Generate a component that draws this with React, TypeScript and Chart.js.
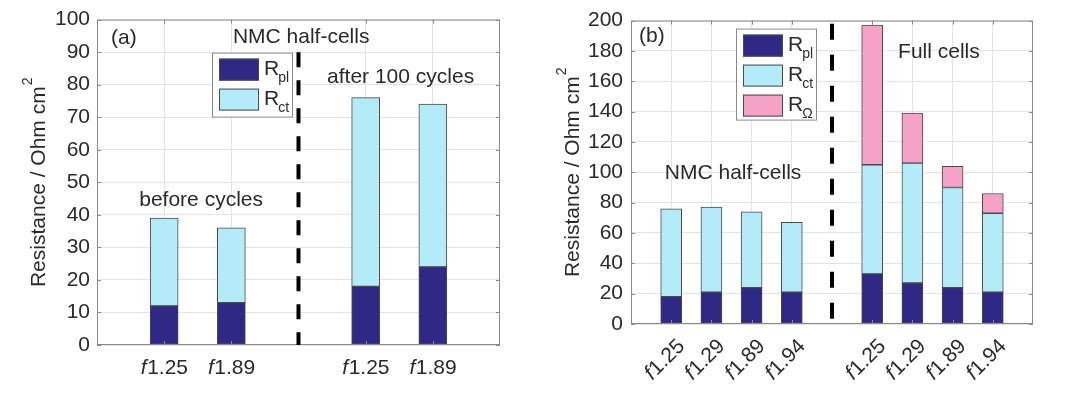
import React, { useEffect, useRef } from 'react';
import { Chart, registerables } from 'chart.js';

Chart.register(...registerables);

// ---------------- data ----------------
const leftLabels = ['', 'f1.25', 'f1.89', '', 'f1.25', 'f1.89', ''];
const leftRpl = [null, 12, 13, null, 18, 24, null];
const leftRct = [null, 27, 23, null, 58, 50, null];
const leftYTicks = { min: 0, max: 100, step: 10 };

const rightLabels = ['', 'f1.25', 'f1.29', 'f1.89', 'f1.94', '', 'f1.25', 'f1.29', 'f1.89', 'f1.94', ''];
const rightRpl = [null, 18, 21, 24, 21, null, 33, 27, 24, 21, null];
const rightRct = [null, 58, 56, 50, 46, null, 72, 79, 66, 52, null];
const rightRohm = [null, null, null, null, null, null, 92, 33, 14, 13, null];
const rightYTicks = { min: 0, max: 200, step: 20 };

const seriesSubs = ['pl', 'ct', 'Ω'];

const leftNotes = [
  { text: '(a)', x: 0.4, y: 94.2 },
  { text: 'NMC half-cells', x: 3.04, y: 94.5 },
  { text: 'after 100 cycles', x: 4.52, y: 82.2 },
  { text: 'before cycles', x: 1.55, y: 44.5 },
];
const rightNotes = [
  { text: '(b)', x: 0.52, y: 189.5 },
  { text: 'Full cells', x: 7.66, y: 179 },
  { text: 'NMC half-cells', x: 2.54, y: 99.2 },
];

const yTitle = 'Resistance / Ohm cm';
const yTitleSup = '2';

// ---------------- styles ----------------
const FONT = '"Liberation Sans", Arial, Helvetica, sans-serif';
const TEXT = '#2a2a2a';
const GRID = '#e4e4e4';
const AXIS = '#8a8a8a';
const EDGE = '#4a4a4a';
const C_PL = '#2f2884';
const C_CT = '#b4ebf8';
const C_OHM = '#f6a1c6';
const COLORS = [C_PL, C_CT, C_OHM];

Chart.defaults.font.family = FONT;

type Note = { text: string; x: number; y: number };
type PanelCfg = {
  labels: string[];
  series: (number | null)[][];
  yt: { min: number; max: number; step: number };
  notes: Note[];
  rotate: boolean;
  dashIndex: number;
  dashTop: number;
  dash: number[];
  barThickness: number;
  yWidth: number;
  xHeight: number;
  padRight: number;
  legend: { dx: number; dy: number; w: number; h: number };
  tickPad: number;
};

function drawFLabel(ctx: CanvasRenderingContext2D, label: string, cx: number, baseY: number) {
  const head = label.slice(0, 1);
  const rest = label.slice(1);
  ctx.font = `italic 21px ${FONT}`;
  const wf = ctx.measureText(head).width;
  ctx.font = `21px ${FONT}`;
  const wr = ctx.measureText(rest).width;
  const start = cx - (wf + wr) / 2;
  ctx.textAlign = 'left';
  ctx.font = `italic 21px ${FONT}`;
  ctx.fillText(head, start, baseY);
  ctx.font = `21px ${FONT}`;
  ctx.fillText(rest, start + wf + 0.5, baseY);
}

function makeDeco(cfg: PanelCfg) {
  return {
    id: 'deco',
    afterDatasetsDraw(chart: any) {
      const { ctx, chartArea: a, scales } = chart;
      const x = scales.x;
      const y = scales.y;
      ctx.save();
      // box
      ctx.strokeStyle = AXIS;
      ctx.lineWidth = 1;
      ctx.strokeRect(a.left + 0.5, a.top + 0.5, a.right - a.left - 1, a.bottom - a.top - 1);
      // inward ticks
      const line = (x1: number, y1: number, x2: number, y2: number) => {
        ctx.beginPath();
        ctx.moveTo(x1, y1);
        ctx.lineTo(x2, y2);
        ctx.stroke();
      };
      y.ticks.forEach((_t: any, i: number) => {
        const py = Math.round(y.getPixelForTick(i)) + 0.5;
        line(a.left, py, a.left + 4, py);
        line(a.right, py, a.right - 4, py);
      });
      cfg.labels.forEach((l, i) => {
        if (!l) return;
        const px = Math.round(x.getPixelForValue(i)) + 0.5;
        line(px, a.bottom, px, a.bottom - 4);
        line(px, a.top, px, a.top + 4);
      });
      // dashed divider
      const dxp = x.getPixelForValue(cfg.dashIndex);
      ctx.strokeStyle = '#000';
      ctx.lineWidth = 4;
      ctx.setLineDash(cfg.dash);
      line(dxp, y.getPixelForValue(cfg.dashTop), dxp, a.bottom);
      ctx.setLineDash([]);
      // legend
      const L = cfg.legend;
      const bx = a.left + L.dx;
      const by = a.top + L.dy;
      ctx.fillStyle = '#fff';
      ctx.fillRect(bx, by, L.w, L.h);
      ctx.strokeStyle = AXIS;
      ctx.lineWidth = 1;
      ctx.strokeRect(bx + 0.5, by + 0.5, L.w - 1, L.h - 1);
      chart.data.datasets.forEach((ds: any, i: number) => {
        const sy = by + 6 + i * 30;
        ctx.fillStyle = ds.backgroundColor;
        ctx.fillRect(bx + 7, sy, 40, 22);
        ctx.strokeStyle = EDGE;
        ctx.strokeRect(bx + 7.5, sy + 0.5, 39, 21);
        const tx = bx + 52;
        const base = sy + 16;
        ctx.fillStyle = TEXT;
        ctx.textAlign = 'left';
        ctx.textBaseline = 'alphabetic';
        ctx.font = `21px ${FONT}`;
        ctx.fillText('R', tx, base);
        const w = ctx.measureText('R').width;
        ctx.font = `14px ${FONT}`;
        ctx.fillText(seriesSubs[i], tx + w - 1, base + 7);
      });
      // notes
      ctx.fillStyle = TEXT;
      ctx.font = `21px ${FONT}`;
      ctx.textAlign = 'center';
      ctx.textBaseline = 'middle';
      cfg.notes.forEach((n) => {
        ctx.fillText(n.text, x.getPixelForValue(n.x), y.getPixelForValue(n.y));
      });
      ctx.restore();
    },
    afterDraw(chart: any) {
      const { ctx, chartArea: a, scales } = chart;
      const x = scales.x;
      ctx.save();
      ctx.fillStyle = TEXT;
      // x labels
      cfg.labels.forEach((l, i) => {
        if (!l) return;
        const px = x.getPixelForValue(i);
        if (!cfg.rotate) {
          ctx.textBaseline = 'alphabetic';
          drawFLabel(ctx, l, px, a.bottom + 29);
        } else {
          ctx.save();
          ctx.translate(px - 6.5, a.bottom + 36);
          ctx.rotate(-Math.PI / 4);
          ctx.textBaseline = 'middle';
          drawFLabel(ctx, l, 0, 0);
          ctx.restore();
        }
      });
      // y title
      ctx.save();
      ctx.translate(a.left - 52, (a.top + a.bottom) / 2);
      ctx.rotate(-Math.PI / 2);
      ctx.textAlign = 'left';
      ctx.textBaseline = 'alphabetic';
      ctx.font = `21px ${FONT}`;
      const w1 = ctx.measureText(yTitle).width;
      ctx.font = `14px ${FONT}`;
      const w2 = ctx.measureText(yTitleSup).width;
      const start = -(w1 + w2 + 1) / 2;
      ctx.font = `21px ${FONT}`;
      ctx.fillText(yTitle, start, 0);
      ctx.font = `14px ${FONT}`;
      ctx.fillText(yTitleSup, start + w1 + 1, -13);
      ctx.restore();
      ctx.restore();
    },
  };
}

function Panel({ cfg }: { cfg: PanelCfg }) {
  const ref = useRef<HTMLCanvasElement>(null);
  useEffect(() => {
    const names = ['Rpl', 'Rct', 'Rohm'];
    const chart = new Chart(ref.current as HTMLCanvasElement, {
      type: 'bar',
      data: {
        labels: cfg.labels,
        datasets: cfg.series.map((s, i) => ({
          label: names[i],
          data: s,
          backgroundColor: COLORS[i],
          borderColor: EDGE,
          borderWidth: 1,
          borderSkipped: false,
          barThickness: cfg.barThickness,
        })) as any,
      },
      options: {
        responsive: false,
        devicePixelRatio: 1,
        animation: false,
        events: [],
        layout: { padding: { left: 0, top: 19, right: cfg.padRight, bottom: 0 } },
        plugins: { legend: { display: false }, tooltip: { enabled: false } },
        scales: {
          x: {
            type: 'category',
            stacked: true,
            offset: false,
            ticks: { display: false },
            grid: {
              offset: false,
              drawTicks: false,
              color: (c: any) => (cfg.labels[c.index] ? GRID : 'rgba(0,0,0,0)'),
            },
            border: { display: false },
            afterFit: (s: any) => {
              s.height = cfg.xHeight;
            },
          },
          y: {
            stacked: true,
            min: cfg.yt.min,
            max: cfg.yt.max,
            ticks: {
              stepSize: cfg.yt.step,
              color: TEXT,
              font: { family: FONT, size: 21 },
              padding: cfg.tickPad,
            },
            grid: { color: GRID, drawTicks: false },
            border: { display: false },
            afterFit: (s: any) => {
              s.width = cfg.yWidth;
            },
          },
        },
      } as any,
      plugins: [makeDeco(cfg) as any],
    });
    return () => chart.destroy();
  }, [cfg]);
  return <canvas ref={ref} width={540} height={393} style={{ display: 'block', width: 540, height: 393 }} />;
}

const leftCfg: PanelCfg = {
  labels: leftLabels,
  series: [leftRpl, leftRct],
  yt: leftYTicks,
  notes: leftNotes,
  rotate: false,
  dashIndex: 3,
  dashTop: 90,
  dash: [15, 13],
  barThickness: 28,
  yWidth: 97,
  xHeight: 48,
  padRight: 40,
  legend: { dx: 115, dy: 33, w: 81, h: 65 },
  tickPad: 7,
};

const rightCfg: PanelCfg = {
  labels: rightLabels,
  series: [rightRpl, rightRct, rightRohm],
  yt: rightYTicks,
  notes: rightNotes,
  rotate: true,
  dashIndex: 5,
  dashTop: 198,
  dash: [16, 15],
  barThickness: 21,
  yWidth: 91,
  xHeight: 69,
  padRight: 47,
  legend: { dx: 105, dy: 8, w: 81, h: 92 },
  tickPad: 8,
};

export default function App() {
  return (
    <div
      style={{
        position: 'fixed',
        left: 0,
        top: 0,
        width: 1080,
        height: 393,
        background: '#fff',
        display: 'flex',
      }}
    >
      <Panel cfg={leftCfg} />
      <Panel cfg={rightCfg} />
    </div>
  );
}
